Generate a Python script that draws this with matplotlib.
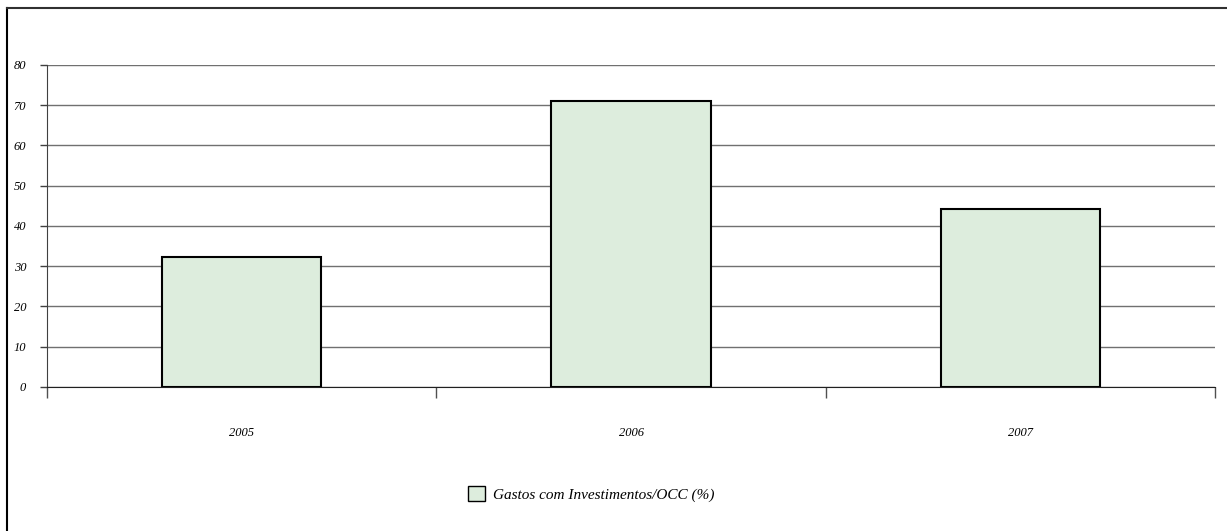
import matplotlib
matplotlib.use("Agg")
import matplotlib.pyplot as plt
from matplotlib.lines import Line2D
from matplotlib.patches import Patch
import numpy as np

# data
years = ["2005", "2006", "2007"]
gastos = [32.3, 71.0, 44.2]
y_ticks = [0, 10, 20, 30, 40, 50, 60, 70, 80]
serie_label = "Gastos com Investimentos/OCC (%)"

plt.rcParams['font.family'] = ['Liberation Serif', 'DejaVu Serif']

fig = plt.figure(figsize=(12.27, 5.31), dpi=100)
ax = fig.add_axes([0.0383, 0.2712, 0.9520, 0.6064])

x = np.arange(len(years))
ax.bar(x, gastos, width=0.41, color="#ddeddd", edgecolor="black", linewidth=1.5, zorder=3)

ax.set_xlim(-0.5, len(years) - 0.5)
ax.set_ylim(0, 80)

# gridlines
ax.set_yticks(y_ticks)
ax.set_yticklabels([str(v) for v in y_ticks], fontsize=9, style="italic")
ax.yaxis.grid(True, color="#707070", linewidth=1.0, zorder=0)
ax.tick_params(axis="y", length=5, width=1, color="#404040", pad=10)

# category boundaries as major ticks, labels at centres
ax.set_xticks(np.arange(-0.5, len(years), 1.0))
ax.set_xticklabels([])
ax.set_xticks(x, minor=True)
ax.set_xticklabels(years, minor=True, fontsize=9, style="italic")
ax.tick_params(axis="x", which="major", length=8, width=1, color="#505050", direction="out")
ax.tick_params(axis="x", which="minor", length=0, pad=29)

for s in ["top", "right"]:
    ax.spines[s].set_visible(False)
ax.spines["left"].set_color("#404040")
ax.spines["bottom"].set_color("#202020")
ax.spines["bottom"].set_zorder(4)

# legend
handle = Patch(facecolor="#ddeddd", edgecolor="black", linewidth=1.0)
fig.legend([handle], [serie_label], loc="center", bbox_to_anchor=(0.482, 0.07),
           frameon=False, prop={"size": 11, "style": "italic"},
           handlelength=1.1, handleheight=1.1, handletextpad=0.5)

# outer chart-area border (left and top only visible)
fig.add_artist(Line2D([0.0057, 0.0057], [0.0, 0.985], color="black", linewidth=1.5))
fig.add_artist(Line2D([0.0057, 1.0], [0.985, 0.985], color="#303030", linewidth=1.5))

fig.savefig("out.png", dpi=100)
